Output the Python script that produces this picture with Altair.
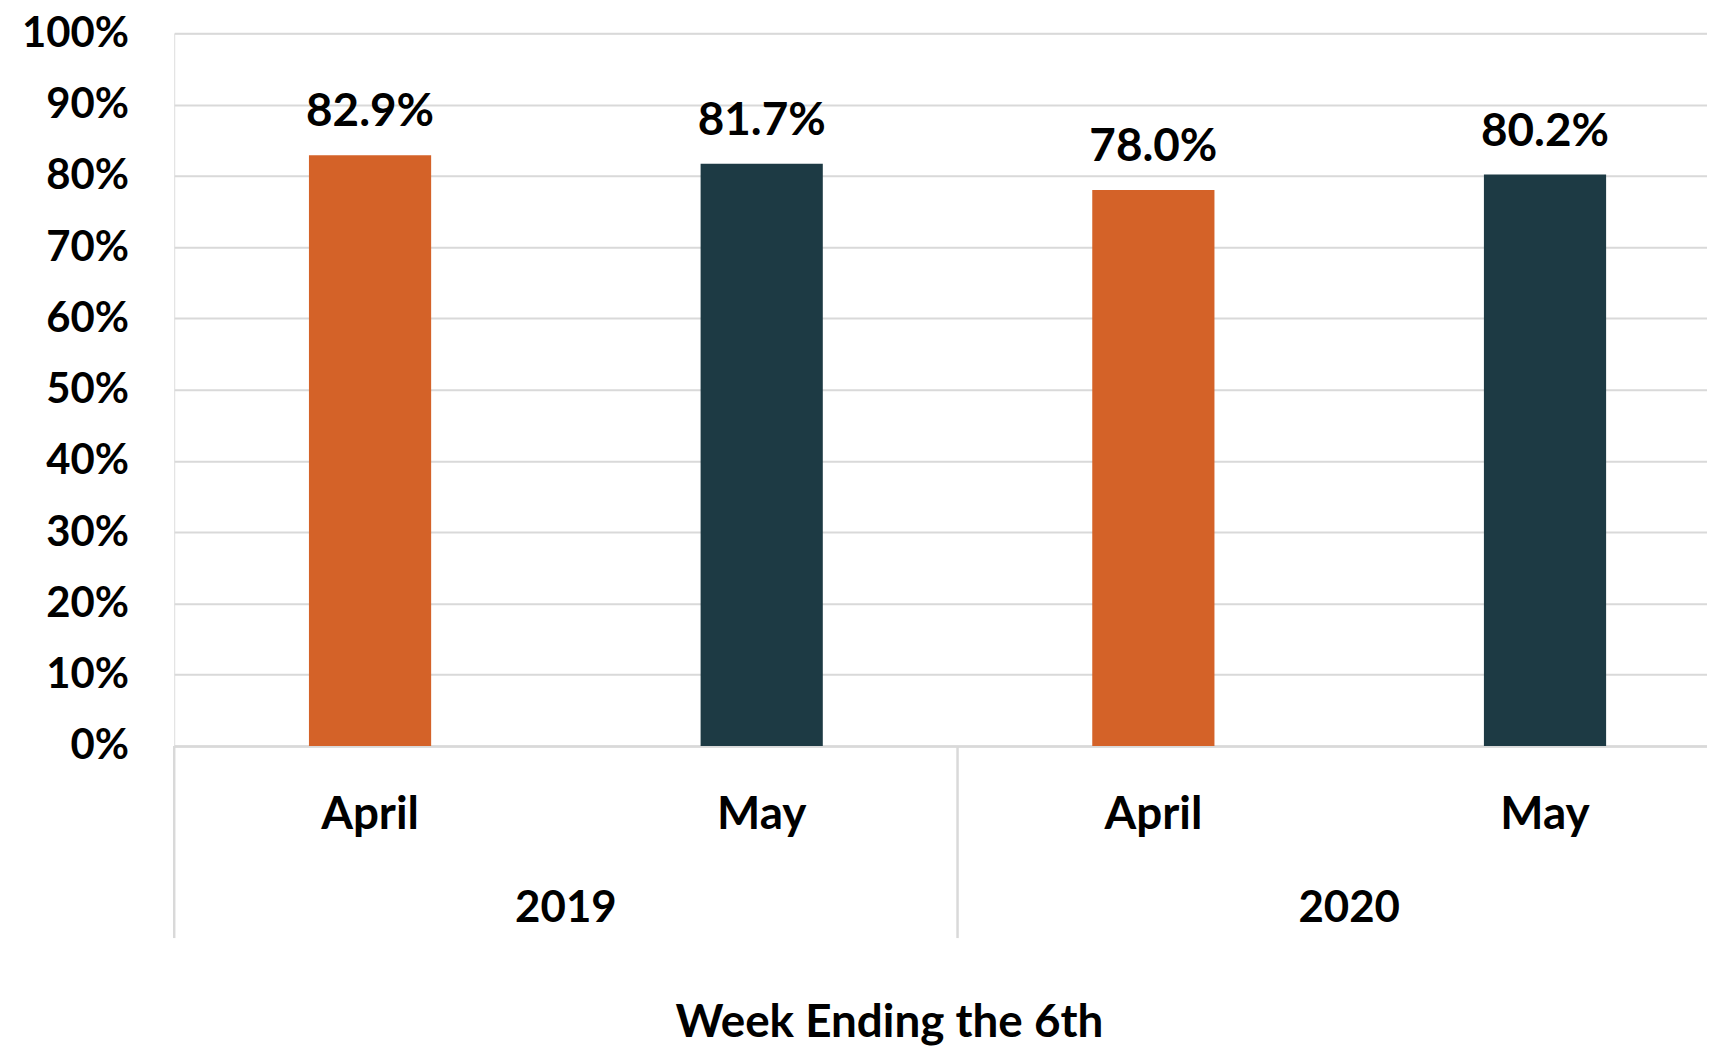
import altair as alt
import pandas as pd

# ---- data ----
years = ["2019", "2019", "2020", "2020"]
months = ["April", "May", "April", "May"]
shares = [0.829, 0.817, 0.780, 0.802]
share_labels = ["82.9%", "81.7%", "78.0%", "80.2%"]
year_cats = ["2019", "2020"]
month_cats = ["April", "May"]
month_colors = ["#D46228", "#1D3A44"]
y_ticks = [0.0, 0.1, 0.2, 0.3, 0.4, 0.5, 0.6, 0.7, 0.8, 0.9, 1.0]
x_title = "Week Ending the 6th"

df = pd.DataFrame({"year": years, "month": months, "share": shares, "label": share_labels})
df["key"] = df["year"] + "|" + df["month"]
year_df = pd.DataFrame({"year": year_cats})

FONT = "Lato"
FS = 44
FS_Y = 42
FS_BIG = 46
GRID = "#d9d9d9"
PLOT_H = 716
PLOT_W = 1540
FULL_RANGE = [0, 1574]

x_key = alt.X(
    "key:N",
    sort=list(df["key"]),
    scale=alt.Scale(range=FULL_RANGE, paddingInner=0.688, paddingOuter=0.344),
    axis=alt.Axis(
        orient="bottom",
        title=None,
        labelExpr="split(datum.label, '|')[1]",
        labelFont=FONT, labelFontSize=FS_BIG, labelFontWeight="bold", labelColor="black",
        labelBaseline="alphabetic", labelPadding=83, labelAngle=0,
        ticks=False, tickSize=0,
        domain=True, domainColor=GRID, domainWidth=2.5,
        grid=False,
    ),
)

y_enc = alt.Y(
    "share:Q",
    scale=alt.Scale(domain=[0, 1], nice=False, zero=True),
    axis=alt.Axis(
        title=None, values=y_ticks, format=".0%",
        labelFont=FONT, labelFontSize=FS_Y, labelFontWeight="bold", labelColor="black",
        labelPadding=46, labelBaseline="middle",
        ticks=False, domain=False,
        grid=True, gridColor=GRID, gridWidth=2,
    ),
)

bars = alt.Chart(df).mark_bar().encode(
    x=x_key,
    y=y_enc,
    color=alt.Color("month:N", scale=alt.Scale(domain=month_cats, range=month_colors), legend=None),
)

text = alt.Chart(df).mark_text(
    font=FONT, fontSize=FS_BIG, fontWeight="bold", color="black",
    baseline="alphabetic", dy=-29,
).encode(x=x_key, y=y_enc, text="label:N")

rules = alt.Chart(year_df).mark_rule(color=GRID, strokeWidth=2.5).encode(
    x=alt.X(
        "year:N",
        bandPosition=0,
        scale=alt.Scale(domain=year_cats, range=FULL_RANGE, paddingInner=0, paddingOuter=0),
        axis=alt.Axis(
            orient="bottom",
            title=x_title,
            titleFont=FONT, titleFontSize=FS_BIG, titleFontWeight="bold", titleColor="black",
            titleX=718, titleY=292, titleBaseline="alphabetic", titleAlign="center",
            labelFont=FONT, labelFontSize=FS, labelFontWeight="bold", labelColor="black",
            labelBaseline="alphabetic", labelPadding=176, labelAngle=0,
            ticks=False, tickSize=0, domain=False, grid=False,
        ),
    ),
    y=alt.value(PLOT_H),
    y2=alt.value(PLOT_H + 193),
)

chart = (
    alt.layer(alt.layer(bars, text), rules)
    .resolve_scale(x="independent")
    .properties(
        width=PLOT_W,
        height=PLOT_H,
        autosize=alt.AutoSizeParams(type="none"),
        padding={"left": 167, "top": 23, "right": 0, "bottom": 301},
    )
    .configure_view(stroke=None)
    .configure(background="white")
)

chart.save("out.html", embed_options={"renderer": "svg", "actions": False})
